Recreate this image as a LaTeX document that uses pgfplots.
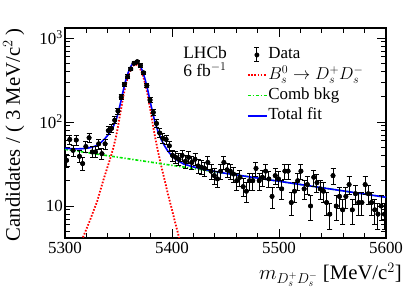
\documentclass[border=0pt]{standalone}
\usepackage{fontspec}
\setmainfont{Liberation Serif}
\usepackage{pgfplots}
\pgfplotsset{compat=1.18}
\usepackage{pgfplotstable}

\newcommand{\bsdecay}{$B^{0}_{s}\rightarrow D^{+}_{s}D^{-}_{s}$}
\definecolor{rootgreen}{RGB}{0,230,0}
\pgfplotsset{
  linelegend/.style={legend image code/.code={\draw[##1] (0bp,0bp) -- (19bp,0bp);}},
  datalegend/.style={legend image code/.code={
    \draw[black, line width=1bp] (9bp,-7bp) -- (9bp,7bp);
    \draw[black, line width=1bp] (6.5bp,-7bp) -- (11.5bp,-7bp);
    \draw[black, line width=1bp] (6.5bp,7bp) -- (11.5bp,7bp);
    \fill[black] (9bp,0bp) circle (2.2bp);}},
}

\pgfplotstableread{
m n e
5301.5 35 5.9
5304.5 62 7.9
5307.5 46 6.8
5310.5 61 7.8
5313.5 39 6.2
5316.5 32 5.7
5319.5 51 7.1
5322.5 65 8.1
5325.5 44 6.6
5328.5 44 6.6
5331.5 55 7.4
5334.5 42 6.5
5337.5 55 7.4
5340.5 79 8.9
5343.5 84 9.2
5346.5 105 10.2
5349.5 135 11.6
5352.5 198 14.1
5355.5 281 16.8
5358.5 345 18.6
5361.5 428 20.7
5364.5 500 22.4
5367.5 522 22.8
5370.5 470 21.7
5373.5 385 19.6
5376.5 272 16.5
5379.5 183 13.5
5382.5 130 11.4
5385.5 96 9.8
5388.5 74 8.6
5391.5 64 8.0
5394.5 62 7.9
5397.5 52 7.2
5400.5 40 6.3
5403.5 38 6.2
5406.5 36 6.0
5409.5 40 6.3
5412.5 34 5.8
5415.5 38 6.2
5418.5 33 5.7
5421.5 36 6.0
5424.5 30 5.5
5427.5 29 5.4
5430.5 28 5.3
5433.5 33 5.7
5436.5 26 5.1
5439.5 23 4.8
5442.5 21 4.6
5445.5 26 5.1
5448.5 33 5.7
5451.5 27 5.2
5454.5 26 5.1
5457.5 24 4.9
5460.5 20 4.5
5463.5 22 4.7
5466.5 17 4.1
5469.5 15 3.9
5472.5 20 4.5
5475.5 20 4.5
5478.5 28 5.3
5481.5 20 4.5
5484.5 22 4.7
5487.5 26 5.1
5490.5 21 4.6
5493.5 13 3.6
5496.5 23 4.8
5499.5 21 4.6
5502.5 16 4.0
5505.5 26 5.1
5508.5 26 5.1
5511.5 11 3.3
5514.5 15 3.9
5517.5 20 4.5
5520.5 26 5.1
5523.5 16 4.0
5526.5 18 4.2
5529.5 10 3.2
5532.5 22 4.7
5535.5 19 4.4
5538.5 16 4.0
5541.5 15 3.9
5544.5 11 3.3
5547.5 8 2.8
5550.5 23 4.8
5553.5 10 3.2
5556.5 13 3.6
5559.5 9 3.0
5562.5 13 3.6
5565.5 18 4.2
5568.5 9 3.0
5571.5 14 3.7
5574.5 11 3.3
5577.5 11 3.3
5580.5 18 4.2
5583.5 14 3.7
5586.5 11 3.3
5589.5 9 3.0
5592.5 8 2.8
5595.5 10 3.2
5598.5 8 2.8
}\datatable

\pgfplotstableread{
m s
5303 1.6
5306 2.0
5309 2.48
5312 3.05
5315 3.75
5318 4.6
5321 5.7
5324 7.1
5327 9.0
5330 11.3
5333 15.3
5336 20.6
5339 27.2
5342 35.8
5345 48.3
5348 69.8
5349.5 87.9
5351 113.2
5352.5 144.9
5354 186.6
5355.5 233.2
5357 283
5358.5 333.1
5360 381
5361.5 422.5
5363 455
5364.5 475.9
5366 483
5367.5 475.9
5369 455
5370.5 422.5
5372 381
5373.5 333.1
5375 283
5376.5 233.2
5378 186.6
5379.5 144.9
5381 113.2
5382.5 86.9
5384 68.2
5387 44.1
5390 29.8
5393 20.6
5396 14.2
5399 10.1
5402 7.1
5405 5.06
5408 3.58
5411 2.53
5414 1.8
}\sigtable

\pgfplotstableread{
m b
5300 47.3
5350 38.0
5400 30.5
5450 24.5
5500 19.7
5550 15.8
5600 12.7
}\bkgtable

\pgfplotstableread{
m t
5300 48.6
5303 48.3
5306 48.1
5309 47.95
5312 47.93
5315 48.04
5318 48.3
5321 48.85
5324 49.7
5327 51.0
5330 52.8
5333 56.2
5336 61.0
5339 67.1
5342 75.2
5345 87.2
5348 108.1
5349.5 126.0
5351 151
5352.5 182.5
5354 224
5355.5 270.3
5357 320
5358.5 369.7
5360 417
5361.5 458.6
5363 491
5364.5 511.6
5366 518
5367.5 511.1
5369 490
5370.5 457.3
5372 416
5373.5 367.4
5375 317
5376.5 267.1
5378 220
5379.5 178.3
5381 146.4
5382.5 119.9
5384 101
5387 76.4
5390 61.7
5393 52.1
5396 45.3
5399 40.8
5402 37.4
5405 34.9
5408 33.1
5411 31.6
5420 29.2
5430 27.3
5450 24.5
5475 22.0
5500 19.7
5550 15.8
5600 12.7
}\tottable

\begin{document}
\begin{tikzpicture}
\begin{axis}[
  name=ax,
  at={(0,0)}, anchor=south west,
  scale only axis, width=321bp, height=210bp,
  xmin=5300, xmax=5600, ymode=log, ymin=4.16, ymax=1316,
  xtick={5300,5400,5500,5600}, minor x tick num=4,
  ytick={10,100,1000},
  yticklabels={10,10\textsuperscript{2},10\textsuperscript{3}},
  minor ytick={5,6,7,8,9,20,30,40,50,60,70,80,90,200,300,400,500,600,700,800,900},
  tick pos=both, tick align=inside,
  major tick length=9bp, minor tick length=5bp,
  every tick/.style={black, line width=0.8bp},
  axis line style={line width=1.1bp},
  /pgf/number format/assume math mode=true,
  /pgf/number format/1000 sep={},
  font=\fontsize{17}{20}\selectfont,
  tick label style={font=\fontsize{17}{20}\selectfont},
  yticklabel style={inner sep=2bp},
  xticklabel style={inner sep=4bp},
  xlabel={$m_{D_s^+D_s^-}$ [MeV/c$^2$]},
  xlabel style={at={(axis description cs:1.05,-0.2)}, anchor=base east, inner sep=0pt,
    font=\fontsize{20.8}{24}\selectfont},
  ylabel={Candidates / ( 3 MeV/c$^{2}$ )},
  ylabel style={at={(axis description cs:-0.16,1)}, anchor=east, inner sep=0pt,
    font=\fontsize{20.8}{24}\selectfont},
  clip=true,
  legend cell align=left,
  legend style={at={(axis description cs:0.567,0.912)}, anchor=north west,
    draw=none, fill=none, inner sep=0pt, outer sep=0pt, row sep=3.3bp,
    font=\fontsize{17}{20}\selectfont,
    nodes={inner sep=0.5bp, text height=12bp, text depth=4bp}},
]
\addplot[black, only marks, mark=*, mark size=2.2bp, datalegend,
  error bars/.cd, y dir=both, y explicit,
  error bar style={line width=1bp},
  error mark options={line width=1bp, mark size=2.5bp, rotate=90}]
  table[x=m, y=n, y error=e] {\datatable};
\addlegendentry{Data}
\addplot[red, line width=1.8bp, dash pattern=on 1.6bp off 1.6bp, linelegend] table[x=m, y=s] {\sigtable};
\addlegendentry{\bsdecay}
\addplot[rootgreen, line width=1.6bp, dash pattern=on 3bp off 1.8bp on 1.3bp off 1.8bp, linelegend] table[x=m, y=b] {\bkgtable};
\addlegendentry{Comb bkg}
\addplot[blue, line width=1.6bp, linelegend] table[x=m, y=t] {\tottable};
\addlegendentry{Total fit}
\addplot[black, only marks, mark=*, mark size=2.2bp, forget plot,
  error bars/.cd, y dir=both, y explicit,
  error bar style={line width=1bp},
  error mark options={line width=1bp, mark size=2.5bp, rotate=90}]
  table[x=m, y=n, y error=e] {\datatable};

\node[anchor=base west, inner sep=0pt, font=\fontsize{17.5}{20}\selectfont] at (rel axis cs:0.368,0.857) {LHCb};
\node[anchor=base west, inner sep=0pt, font=\fontsize{17.5}{20}\selectfont] at (rel axis cs:0.368,0.77) {6 fb$^{-1}$};
\end{axis}
\pgfresetboundingbox
\path[use as bounding box] (-65bp,-54bp) rectangle (342bp,238bp);
\end{tikzpicture}
\end{document}
